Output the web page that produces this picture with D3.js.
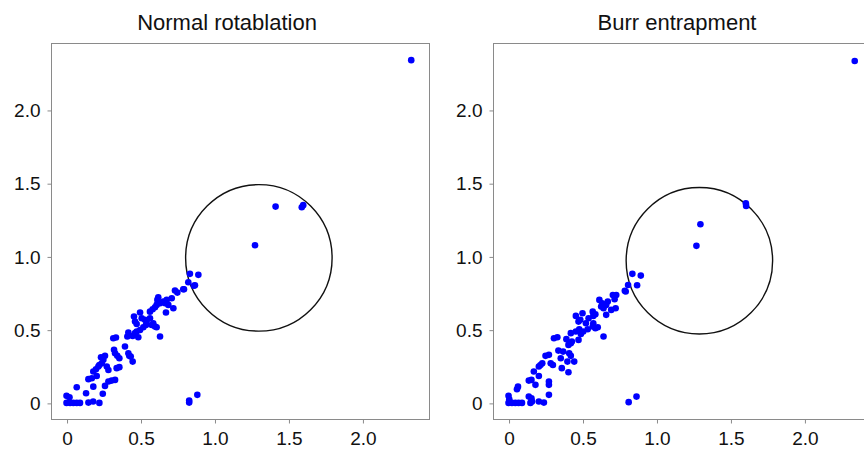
<!DOCTYPE html>
<html>
<head>
<meta charset="utf-8">
<style>
  body { margin: 0; background: #fff; }
  text { font-family: "Liberation Sans", Arial, sans-serif; }
</style>
</head>
<body>
<svg width="864" height="454" id="chart"></svg>
<script src="https://cdn.jsdelivr.net/npm/d3@7"></script>
<script>

// values
const titles = ['Normal rotablation', 'Burr entrapment']
const tickValues = [0, 0.5, 1.0, 1.5, 2.0]
const tickLabels = ['0', '0.5', '1.0', '1.5', '2.0']

const normalX = [0.00, 0.024, 0.046, 0.069, 0.091, 0.148, 0.18, 0.222, 0.0, 0.02, 0.069, 0.132, 0.245, 0.181,
  0.148, 0.171, 0.204, 0.26, 0.283, 0.305, 0.328, 0.181, 0.199, 0.215, 0.222, 0.238, 0.249, 0.233, 0.26,
  0.272, 0.283, 0.321, 0.328, 0.343, 0.357, 0.316, 0.334, 0.339, 0.357, 0.395, 0.411, 0.418, 0.418, 0.424,
  0.434, 0.447, 0.447, 0.463, 0.485, 0.474, 0.456, 0.463, 0.474, 0.497, 0.508, 0.497, 0.519, 0.537, 0.530,
  0.541, 0.564, 0.564, 0.582, 0.598, 0.609, 0.614, 0.620, 0.632, 0.654, 0.666, 0.677, 0.688, 0.711, 0.586,
  0.598, 0.609, 0.576, 0.632, 0.672, 0.722, 0.733, 0.749, 0.789, 0.823, 0.834, 0.868, 0.891, 0.829, 0.829,
  0.884, 0.861, 0.794, 1.413, 1.59, 1.60, 1.274, 2.33]
const normalY = [0.00, 0.00, 0.00, 0.00, 0.00, 0.002, 0.009, 0.00, 0.048, 0.039, 0.107, 0.066, 0.062, 0.111,
  0.162, 0.168, 0.184, 0.116, 0.146, 0.152, 0.157, 0.214, 0.23, 0.248, 0.259, 0.271, 0.294, 0.312, 0.321,
  0.248, 0.225, 0.362, 0.339, 0.321, 0.305, 0.441, 0.446, 0.237, 0.244, 0.385, 0.453, 0.48, 0.339, 0.321,
  0.316, 0.282, 0.457, 0.476, 0.448, 0.487, 0.589, 0.555, 0.539, 0.617, 0.578, 0.498, 0.516, 0.532, 0.567,
  0.555, 0.578, 0.623, 0.639, 0.653, 0.669, 0.703, 0.721, 0.680, 0.692, 0.680, 0.703, 0.669, 0.714, 0.544,
  0.521, 0.516, 0.532, 0.453, 0.617, 0.646, 0.767, 0.753, 0.776, 0.824, 0.881, 0.803, 0.874, 0.016, 0.002,
  0.055, 0.80, 0.776, 1.34, 1.336, 1.35, 1.076, 2.34]

const burrX = [0.00, 0.023, 0.046, 0.068, 0.091, 0.148, 0.159, 0.205, 0.239, 0.0, 0.005, 0.064, 0.057, 0.137,
  0.155, 0.273, 0.137, 0.155, 0.182, 0.205, 0.273, 0.273, 0.171, 0.205, 0.216, 0.228, 0.25, 0.273, 0.285,
  0.30, 0.337, 0.353, 0.36, 0.369, 0.307, 0.33, 0.391, 0.405, 0.421, 0.428, 0.398, 0.405, 0.421, 0.444,
  0.41, 0.421, 0.455, 0.473, 0.478, 0.489, 0.505, 0.455, 0.473, 0.485, 0.50, 0.523, 0.535, 0.541, 0.569,
  0.573, 0.587, 0.569, 0.587, 0.603, 0.573, 0.614, 0.626, 0.642, 0.633, 0.66, 0.671, 0.694, 0.66, 0.642,
  0.705, 0.728, 0.717, 0.724, 0.792, 0.808, 0.837, 0.869, 0.894, 0.812, 0.865, 0.786, 1.604, 1.606, 1.297,
  1.27, 2.34]
const burrY = [0.00, 0.00, 0.00, 0.00, 0.00, 0.00, 0.009, 0.009, 0.002, 0.048, 0.025, 0.111, 0.093, 0.043,
  0.032, 0.055, 0.152, 0.157, 0.123, 0.184, 0.146, 0.123, 0.214, 0.248, 0.259, 0.271, 0.321, 0.328, 0.271,
  0.259, 0.357, 0.305, 0.237, 0.35, 0.441, 0.448, 0.435, 0.396, 0.407, 0.419, 0.282, 0.209, 0.321, 0.282,
  0.339, 0.476, 0.487, 0.43, 0.503, 0.471, 0.487, 0.594, 0.555, 0.567, 0.612, 0.544, 0.503, 0.578, 0.623,
  0.594, 0.605, 0.521, 0.510, 0.516, 0.544, 0.703, 0.658, 0.646, 0.680, 0.669, 0.692, 0.635, 0.601, 0.453,
  0.737, 0.737, 0.708, 0.646, 0.760, 0.805, 0.881, 0.803, 0.869, 0.005, 0.043, 0.765, 1.363, 1.345, 1.22,
  1.072, 2.334]

const circleCX = [1.30, 1.29]
const circleCY = [0.99, 0.97]
const circleR = [0.5, 0.5]

const svg = d3.select('#chart')

const panels = [
  { left: 51, titleX: 227, xs: normalX, ys: normalY },
  { left: 493, titleX: 677, xs: burrX, ys: burrY }
]

panels.forEach((p, i) => {
  const w = 378, top = 43, bottom = 419
  const x = d3.scaleLinear().domain([-0.105, 2.45]).range([p.left, p.left + w])
  const y = d3.scaleLinear().domain([-0.11, 2.457]).range([bottom, top])

  svg.append('text')
    .attr('x', p.titleX).attr('y', 30)
    .attr('text-anchor', 'middle')
    .attr('font-size', '22px')
    .attr('fill', '#111')
    .text(titles[i])

  svg.append('rect')
    .attr('x', p.left + 0.5).attr('y', top + 0.5)
    .attr('width', w).attr('height', bottom - top)
    .attr('fill', 'none').attr('stroke', '#8a8a8a').attr('stroke-width', 1)

  const xAxis = svg.append('g')
    .attr('transform', 'translate(0.5,' + (bottom + 0.5) + ')')
    .call(d3.axisBottom(x).tickValues(tickValues).tickFormat((d, k) => tickLabels[k]).tickSize(4).tickPadding(8))
  const yAxis = svg.append('g')
    .attr('transform', 'translate(' + (p.left + 0.5) + ',0.5)')
    .call(d3.axisLeft(y).tickValues(tickValues).tickFormat((d, k) => tickLabels[k]).tickSize(4).tickPadding(7))

  ;[xAxis, yAxis].forEach(a => {
    a.select('.domain').remove()
    a.selectAll('line').attr('stroke', '#8a8a8a')
    a.selectAll('text').attr('font-size', '19px').attr('fill', '#111')
      .style('font-family', '"Liberation Sans", Arial, sans-serif')
  })

  svg.append('circle')
    .attr('cx', x(circleCX[i])).attr('cy', y(circleCY[i]))
    .attr('r', y(0) - y(circleR[i]))
    .attr('fill', 'none').attr('stroke', '#111').attr('stroke-width', 1.4)

  svg.append('g')
    .selectAll('circle')
    .data(d3.range(p.xs.length))
    .enter()
    .append('circle')
      .attr('cx', k => x(p.xs[k]))
      .attr('cy', k => y(p.ys[k]))
      .attr('r', 3.3)
      .attr('fill', '#0000ff')
})

</script>
</body>
</html>
